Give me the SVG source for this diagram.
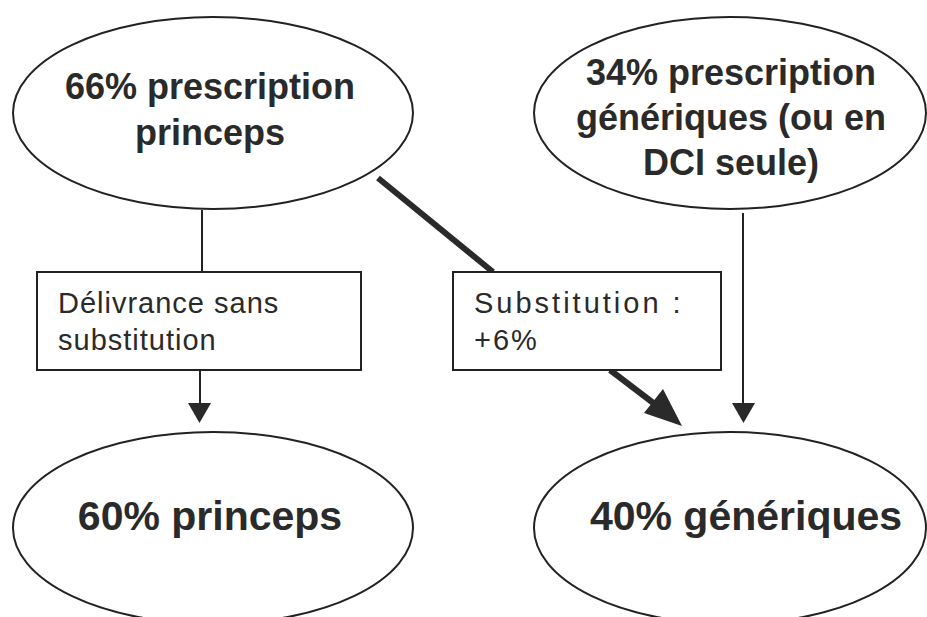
<svg xmlns="http://www.w3.org/2000/svg" width="927" height="617" viewBox="0 0 927 617">
<style>
.ell{fill:#fff;stroke:#222;stroke-width:2}
.box{fill:#fff;stroke:#222;stroke-width:2}
.big{font-family:"Liberation Sans",Arial,sans-serif;font-weight:bold;fill:#2a2a2a;text-anchor:middle}
.lbl{font-family:"Liberation Sans",Arial,sans-serif;fill:#2a2a2a;font-size:29px}
.thin{stroke:#222;stroke-width:2;fill:none}
.thick{stroke:#2a2a2a;stroke-width:6;fill:none}
</style>
<rect width="927" height="617" fill="#fff"/>
<g id="connectors">
<line class="thin" x1="202" y1="210" x2="202" y2="272"/>
<line class="thin" x1="200" y1="370" x2="200" y2="405"/>
<polygon points="188,403 211,403 199.5,423" fill="#2a2a2a"/>
<line class="thick" x1="378" y1="178" x2="493" y2="272"/>
<line class="thick" x1="610" y1="370" x2="656" y2="405"/>
<polygon points="682,426 644,413 663,389" fill="#2a2a2a"/>
<line class="thin" x1="743" y1="213" x2="743" y2="405"/>
<polygon points="732,403 755,403 743.5,423" fill="#2a2a2a"/>
</g>
<g id="n1">
<ellipse class="ell" cx="213" cy="113" rx="200" ry="96"/>
<text class="big" font-size="36" x="210" y="99">66% prescription</text>
<text class="big" font-size="36" x="210" y="145">princeps</text>
</g>
<g id="n2">
<ellipse class="ell" cx="730" cy="113" rx="196" ry="96"/>
<text class="big" font-size="36" x="731" y="85">34% prescription</text>
<text class="big" font-size="36" x="731" y="130">génériques (ou en</text>
<text class="big" font-size="36" x="731" y="175">DCI seule)</text>
</g>
<g id="b1">
<rect class="box" x="37" y="272" width="324" height="98"/>
<text class="lbl" x="58" y="313" letter-spacing="1">Délivrance sans</text>
<text class="lbl" x="58" y="350" letter-spacing="1">substitution</text>
</g>
<g id="b2">
<rect class="box" x="453" y="272" width="268" height="98"/>
<text class="lbl" x="474" y="313" letter-spacing="3">Substitution :</text>
<text class="lbl" x="474" y="350" letter-spacing="2">+6%</text>
</g>
<g id="n3">
<ellipse class="ell" cx="213" cy="528" rx="200" ry="96"/>
<text class="big" font-size="41" x="210" y="530">60% princeps</text>
</g>
<g id="n4">
<ellipse class="ell" cx="730" cy="528" rx="196" ry="96"/>
<text class="big" font-size="41" x="746" y="530">40% génériques</text>
</g>
</svg>
